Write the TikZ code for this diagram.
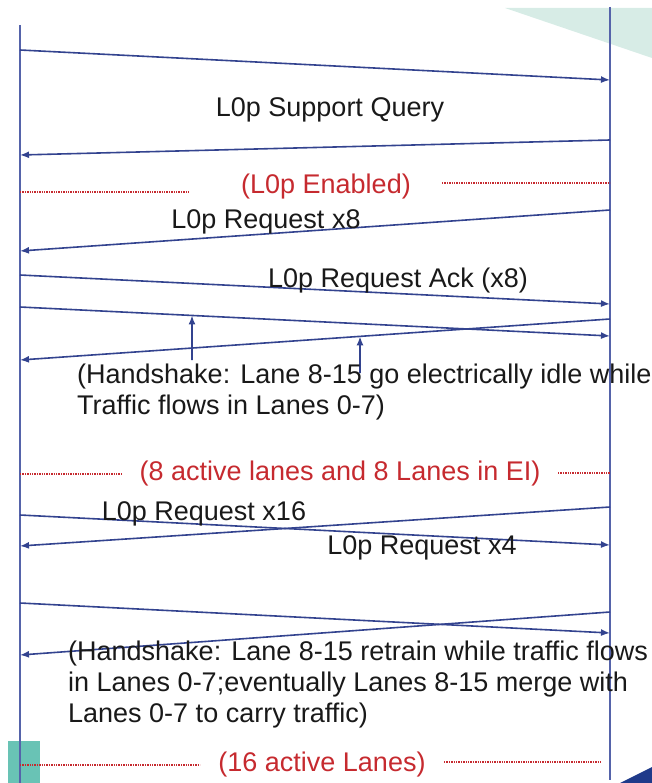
\documentclass[tikz,border=0pt]{standalone}
\usepackage{fontspec}
\setmainfont{Liberation Sans}
\usepackage{xcolor}
\usetikzlibrary{arrows.meta}

\definecolor{msgblue}{HTML}{33438F}
\definecolor{lifeblue}{HTML}{5563AA}
\definecolor{phasered}{HTML}{C62A2F}
\definecolor{mint}{HTML}{D7ECE6}
\definecolor{tealbar}{HTML}{69C3B5}
\definecolor{navy}{HTML}{1F3A8A}

\begin{document}
\begin{tikzpicture}[x=1pt, y=-1pt,
  msg/.style={draw=msgblue, line width=1.6pt, -{Latex[length=9pt,width=7pt]}},
  life/.style={draw=lifeblue, line width=1.5pt},
  phase/.style={draw=phasered, densely dotted, line width=1.4pt},
  every node/.style={font=\fontsize{27}{31}\selectfont, inner sep=0pt, text=black!90}]
  \useasboundingbox (0,0) rectangle (652,783);

  % slide decoration
  \fill[mint] (505,8) -- (652,8) -- (652,58) -- cycle;
  \fill[tealbar] (8,741) rectangle (40,783);
  \fill[navy] (620,783) -- (652,767) -- (652,783) -- cycle;

  % lifelines
  \coordinate (ltop) at (20,25);
  \coordinate (lbot) at (20,783);
  \coordinate (rtop) at (610,7);
  \coordinate (rbot) at (610,780);
  \draw[life] (ltop) -- (lbot);
  \draw[life] (rtop) -- (rbot);

  % message end points
  \coordinate (q1) at (20,50);   \coordinate (q2) at (610,80);
  \coordinate (a1) at (610,140); \coordinate (a2) at (20,155);
  \coordinate (r1) at (610,210); \coordinate (r2) at (20,251);
  \coordinate (k1) at (20,275);  \coordinate (k2) at (610,304);
  \coordinate (e1) at (20,307);  \coordinate (e2) at (610,336);
  \coordinate (f1) at (610,319); \coordinate (f2) at (20,360);
  \coordinate (s1) at (610,507); \coordinate (s2) at (20,546);
  \coordinate (t1) at (20,515);  \coordinate (t2) at (610,545);
  \coordinate (g1) at (20,603);  \coordinate (g2) at (610,633);
  \coordinate (h1) at (610,612); \coordinate (h2) at (20,655);

  \draw[msg] (q1) -- (q2);
  \draw[msg] (a1) -- (a2);
  \draw[msg] (r1) -- (r2);
  \draw[msg] (k1) -- (k2);
  \draw[msg] (e1) -- (e2) coordinate[pos=0.2915] (up1);
  \draw[msg] (f1) -- (f2) coordinate[pos=0.4237] (up2);
  \draw[msg] (s1) -- (s2);
  \draw[msg] (t1) -- (t2);
  \draw[msg] (g1) -- (g2);
  \draw[msg] (h1) -- (h2);

  % handshake pointers
  \coordinate (lo1) at (192,360);
  \coordinate (lo2) at (360,373);
  \draw[msg] (lo1) -- (up1);
  \draw[msg] (lo2) -- (up2);

  % message labels
  \node (query) at (330,110) {L0p Support Query};
  \node (req8) at (266,222) {L0p Request x8};
  \node (ack8) at (398,281) {L0p Request Ack (x8)};
  \node (req16) at (204,514) {L0p Request x16};
  \node (req4) at (422,548) {L0p Request x4};
  \node (hs1) [anchor=north west, align=left] at (77,364)
    {(Handshake: Lane 8-15 go electrically idle while\\Traffic flows in Lanes 0-7)};
  \node (hs2) [anchor=north west, align=left] at (68,641)
    {(Handshake: Lane 8-15 retrain while traffic flows\\in Lanes 0-7;eventually Lanes 8-15 merge with\\Lanes 0-7 to carry traffic)};

  % link states
  \node (en) [text=phasered] at (326,187) {(L0p Enabled)};
  \draw[phase] (20,192) -- (190,192);
  \draw[phase] (442,183) -- (610,183);
  \node (ei) [text=phasered] at (340,474) {(8 active lanes and 8 Lanes in EI)};
  \draw[phase] (20,474) -- (121,474);
  \draw[phase] (558,473) -- (610,473);
  \node (full) [text=phasered] at (322,765) {(16 active Lanes)};
  \draw[phase] (20,765) -- (200,765);
  \draw[phase] (444,762) -- (602,762);
\end{tikzpicture}
\end{document}
